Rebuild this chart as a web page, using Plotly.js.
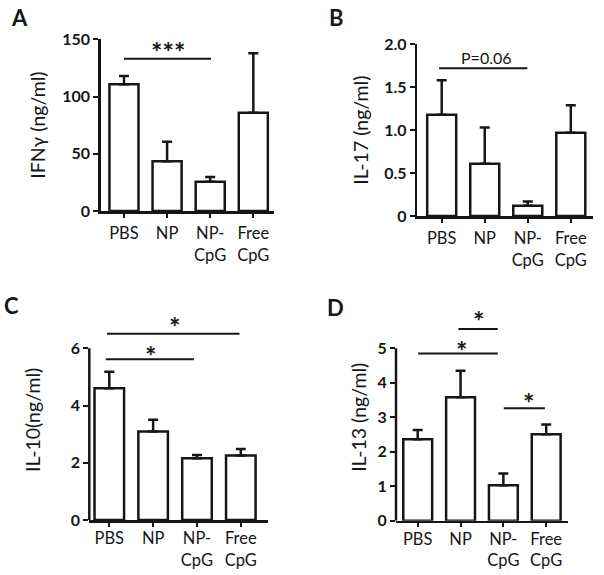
<!DOCTYPE html>
<html><head><meta charset="utf-8">
<script src="https://cdn.plot.ly/plotly-3.0.1.min.js"></script>
<style>html,body{margin:0;padding:0;background:#fff;}</style>
</head><body><div id="chart" style="width:604px;height:575px;"></div>
<script>
// ---- data ----
const groups = ["PBS", "NP", "NP-<br>CpG", "Free<br>CpG"];

const ifngMean = [110.7, 43.4, 25.6, 85.9];
const ifngErr  = [7.3, 17.1, 4.1, 51.9];
const il17Mean = [1.18, 0.61, 0.12, 0.97];
const il17Err  = [0.40, 0.42, 0.05, 0.32];
const il10Mean = [4.60, 3.09, 2.16, 2.25];
const il10Err  = [0.58, 0.41, 0.11, 0.23];
const il13Mean = [2.36, 3.58, 1.03, 2.51];
const il13Err  = [0.27, 0.77, 0.34, 0.28];

const ifngTicks = [0, 50, 100, 150];
const ifngTickText = ["0", "50", "100", "150"];
const il17Ticks = [0, 0.5, 1, 1.5, 2];
const il17TickText = ["0", "0.5", "1.0", "1.5", "2.0"];
const il10Ticks = [0, 2, 4, 6];
const il10TickText = ["0", "2", "4", "6"];
const il13Ticks = [0, 1, 2, 3, 4, 5];
const il13TickText = ["0", "1", "2", "3", "4", "5"];

// significance: [from group, to group, bar level, label x, label y, label]
const ifngSig = [[0, 2.02, 133, 1.02, 145, "***"]];
const il17Sig = [[-0.06, 1.99, 1.72, 1.046, 1.844, "P=0.06"]];
const il10Sig = [[-0.08, 1.93, 5.62, 0.95, 5.96, "*"], [-0.05, 2.97, 6.51, 1.48, 6.96, "*"]];
const il13Sig = [[0.01, 1.87, 4.85, 1.03, 5.10, "*"], [0.95, 1.87, 5.56, 1.41, 5.97, "*"], [2.01, 2.97, 3.26, 2.58, 3.60, "*"]];

const titles = ["IFNγ (ng/ml)", "IL-17 (ng/ml)", "IL-10(ng/ml)", "IL-13 (ng/ml)"];
const panelLetters = ["A", "B", "C", "D"];

// ---- layout helpers ----
const W = 604, H = 575;
const INK = "#161616";
const FONT = "Lato, 'Open Sans', sans-serif";

const panels = [
  {means: ifngMean, errs: ifngErr, tv: ifngTicks, tt: ifngTickText, sig: ifngSig,
   xpx: [100.7, 274], ypx: [211, 39.3], xr: [-0.54, 3.48], yr: [0, 150], ytop: 150, standoff: 12,
   labelPad: 2, letter: [19, 17]},
  {means: il17Mean, errs: il17Err, tv: il17Ticks, tt: il17TickText, sig: il17Sig,
   xpx: [417.3, 592.7], ypx: [216, 44.3], xr: [-0.567, 3.509], yr: [0, 2], ytop: 2, standoff: 11,
   labelPad: 2, letter: [336.5, 17]},
  {means: il10Mean, errs: il10Err, tv: il10Ticks, tt: il10TickText, sig: il10Sig,
   xpx: [89.3, 268.3], ypx: [520, 519.99 - 7 * 28.62], xr: [-0.456, 3.627], yr: [0, 7], ytop: 6, standoff: 24,
   labelPad: -2, letter: [11.5, 305.5]},
  {means: il13Mean, errs: il13Err, tv: il13Ticks, tt: il13TickText, sig: il13Sig,
   xpx: [396, 568.3], ypx: [520.7, 520.7 - 6 * 34.48], xr: [-0.507, 3.516], yr: [0, 6], ytop: 5, standoff: 5,
   labelPad: -2, letter: [335.5, 307.5]}
];

const data = [];
const layout = {
  width: W, height: H, margin: {l: 0, r: 0, t: 0, b: 0},
  paper_bgcolor: "#fff", plot_bgcolor: "rgba(0,0,0,0)",
  showlegend: false, bargap: 0.33,
  font: {family: FONT, color: INK},
  shapes: [], annotations: []
};

panels.forEach((p, i) => {
  const n = i === 0 ? "" : String(i + 1);
  const xa = "x" + n, ya = "y" + n;
  data.push({
    type: "bar", x: groups, y: p.means, xaxis: xa, yaxis: ya, width: 0.674,
    marker: {color: "#fff", line: {color: INK, width: 2.5}},
    error_y: {type: "data", symmetric: false, array: p.errs, arrayminus: p.errs.map(() => 0),
              color: INK, thickness: 2.5, width: 5},
    hoverinfo: "skip"
  });
  const drawLine = p.ytop === p.yr[1];
  layout["xaxis" + n] = {
    domain: [p.xpx[0] / W, p.xpx[1] / W], range: p.xr, type: "category", anchor: ya,
    showline: true, linecolor: INK, linewidth: 2.5, showgrid: false, zeroline: false,
    ticks: "outside", ticklen: 4, tickwidth: 2, tickcolor: INK, ticklabelstandoff: p.labelPad,
    tickfont: {family: FONT, size: 16.5, color: INK}, fixedrange: true
  };
  layout["yaxis" + n] = {
    domain: [(H - p.ypx[0]) / H, (H - p.ypx[1]) / H], range: p.yr, anchor: xa,
    showline: drawLine, linecolor: INK, linewidth: 2.5, showgrid: false, zeroline: false,
    ticks: "outside", ticklen: 5, tickwidth: 2, tickcolor: INK,
    tickmode: "array", tickvals: p.tv, ticktext: p.tt,
    tickfont: {family: FONT, size: 16, color: INK, weight: "bold"},
    title: {text: titles[i], font: {family: FONT, size: 19.5, color: INK}, standoff: p.standoff},
    fixedrange: true
  };
  if (!drawLine) {
    layout.shapes.push({type: "line", xref: xa + " domain", yref: ya, x0: 0, x1: 0, y0: 0, y1: p.ytop,
                        line: {color: INK, width: 2.5}});
  }
  p.sig.forEach(s => {
    layout.shapes.push({type: "line", xref: xa, yref: ya, x0: s[0], x1: s[1], y0: s[2], y1: s[2],
                        line: {color: INK, width: 2}});
    const isStar = s[5].indexOf("*") === 0;
    layout.annotations.push({xref: xa, yref: ya, x: s[3], y: s[4], text: s[5], showarrow: false,
      xanchor: "center", yanchor: "middle", yshift: isStar ? -6 : 0,
      font: isStar ? {family: FONT, size: 27, weight: "bold", color: INK}
                   : {family: FONT, size: 16, color: INK}});
  });
  layout.annotations.push({xref: "paper", yref: "paper", x: p.letter[0] / W, y: 1 - p.letter[1] / H,
    text: panelLetters[i], showarrow: false, xanchor: "center", yanchor: "middle",
    font: {family: FONT, size: 22, weight: "bold", color: INK}});
});

Plotly.newPlot("chart", data, layout, {staticPlot: true, displayModeBar: false});
</script>
</body></html>
